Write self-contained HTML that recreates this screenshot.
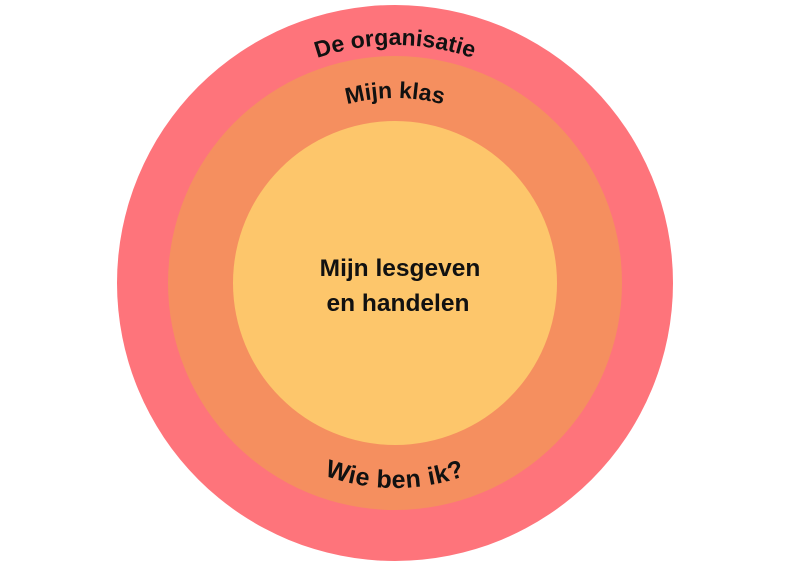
<!DOCTYPE html>
<html><head><style>
html,body{margin:0;padding:0;background:#fff;}
svg{display:block}
text{font-family:"Liberation Sans",sans-serif;font-weight:bold;fill:#111;font-size:23px}
</style></head><body>
<svg width="802" height="567" viewBox="0 0 802 567">
<defs>
<path id="a1" d="M157,283 A238,238 0 0 1 633,283"/>
<path id="a2" d="M210,283 A185,185 0 0 1 580,283"/>
<path id="a3" d="M190,283 A205,205 0 0 0 600,283"/>
</defs>
<circle cx="395" cy="283" r="278" fill="#FE747B"/>
<circle cx="395" cy="283" r="227" fill="#F58F5F"/>
<circle cx="395" cy="283" r="162" fill="#FDC66B"/>
<text><textPath href="#a1" startOffset="50%" text-anchor="middle">De organisatie</textPath></text>
<text><textPath href="#a2" startOffset="50%" text-anchor="middle">Mijn klas</textPath></text>
<text style="font-size:25px;letter-spacing:0.5px"><textPath href="#a3" startOffset="50%" text-anchor="middle">Wie ben ik?</textPath></text>
<text x="400" y="276" text-anchor="middle" style="font-size:24.5px">Mijn lesgeven</text>
<text x="398" y="311" text-anchor="middle" style="font-size:24.5px">en handelen</text>
</svg>
</body></html>
